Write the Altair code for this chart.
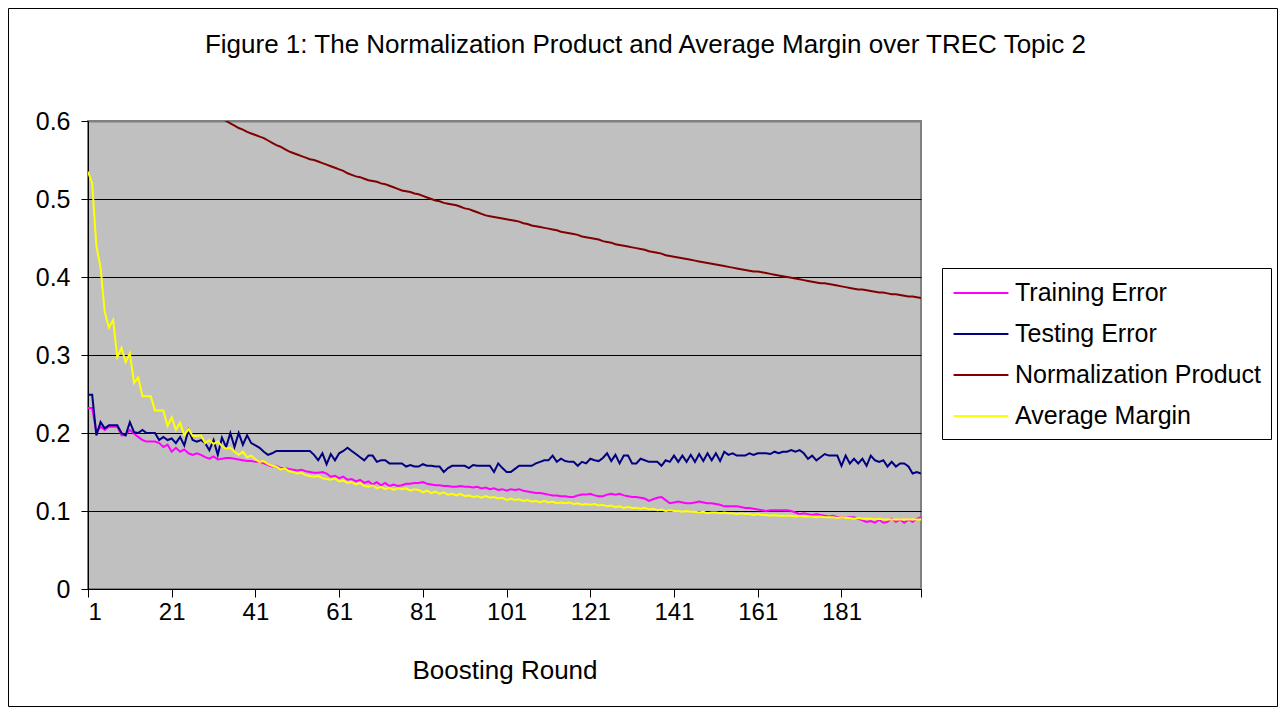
import altair as alt
import pandas as pd

FONT = "Liberation Sans"

series_names = ["Training Error", "Testing Error", "Normalization Product", "Average Margin"]
series_colors = ["#FF00FF", "#000080", "#800000", "#FFFF00"]

rounds = list(range(1, 201))

training_error = [
    0.232, 0.232, 0.201, 0.208, 0.204, 0.208, 0.208, 0.208, 0.197, 0.197,
    0.204, 0.199, 0.195, 0.191, 0.189, 0.189, 0.189, 0.187, 0.182, 0.185,
    0.176, 0.181, 0.176, 0.179, 0.174, 0.172, 0.174, 0.172, 0.169, 0.167,
    0.170, 0.166, 0.167, 0.168, 0.168, 0.167, 0.166, 0.165, 0.164, 0.164,
    0.163, 0.163, 0.161, 0.159, 0.157, 0.158, 0.155, 0.155, 0.154, 0.153,
    0.152, 0.153, 0.151, 0.150, 0.149, 0.149, 0.150, 0.148, 0.144, 0.145,
    0.142, 0.144, 0.140, 0.141, 0.138, 0.140, 0.136, 0.138, 0.134, 0.137,
    0.133, 0.136, 0.132, 0.134, 0.132, 0.133, 0.135, 0.135, 0.136, 0.136,
    0.137, 0.135, 0.134, 0.133, 0.133, 0.132, 0.132, 0.131, 0.131, 0.132,
    0.131, 0.131, 0.130, 0.131, 0.129, 0.130, 0.128, 0.129, 0.127, 0.128,
    0.126, 0.128, 0.127, 0.128, 0.126, 0.125, 0.124, 0.123, 0.123, 0.122,
    0.121, 0.120, 0.120, 0.119, 0.119, 0.118, 0.118, 0.120, 0.121, 0.121,
    0.122, 0.120, 0.119, 0.119, 0.121, 0.122, 0.121, 0.122, 0.120, 0.119,
    0.118, 0.118, 0.117, 0.116, 0.113, 0.115, 0.117, 0.118, 0.114, 0.110,
    0.111, 0.112, 0.111, 0.110, 0.110, 0.111, 0.112, 0.111, 0.110, 0.110,
    0.109, 0.108, 0.106, 0.106, 0.106, 0.106, 0.105, 0.104, 0.104, 0.103,
    0.102, 0.101, 0.100, 0.101, 0.101, 0.101, 0.101, 0.101, 0.100, 0.098,
    0.096, 0.097, 0.096, 0.095, 0.096, 0.095, 0.094, 0.093, 0.094, 0.092,
    0.092, 0.091, 0.092, 0.092, 0.090, 0.088, 0.086, 0.087, 0.085, 0.089,
    0.085, 0.086, 0.090, 0.086, 0.089, 0.085, 0.089, 0.086, 0.090, 0.092,
]

testing_error = [
    0.249, 0.249, 0.197, 0.214, 0.206, 0.210, 0.210, 0.210, 0.200, 0.197,
    0.214, 0.201, 0.200, 0.204, 0.200, 0.200, 0.200, 0.191, 0.195, 0.191,
    0.193, 0.187, 0.195, 0.184, 0.204, 0.191, 0.189, 0.191, 0.187, 0.178,
    0.191, 0.172, 0.194, 0.182, 0.200, 0.182, 0.200, 0.185, 0.197, 0.187,
    0.184, 0.181, 0.176, 0.172, 0.174, 0.177, 0.177, 0.177, 0.177, 0.177,
    0.177, 0.177, 0.177, 0.177, 0.172, 0.165, 0.174, 0.160, 0.173, 0.165,
    0.174, 0.177, 0.181, 0.177, 0.173, 0.169, 0.165, 0.171, 0.171, 0.163,
    0.165, 0.165, 0.161, 0.161, 0.161, 0.161, 0.157, 0.159, 0.157, 0.157,
    0.160, 0.158, 0.158, 0.157, 0.157, 0.150, 0.155, 0.158, 0.158, 0.158,
    0.158, 0.155, 0.159, 0.158, 0.158, 0.158, 0.158, 0.150, 0.161, 0.155,
    0.150, 0.150, 0.154, 0.158, 0.158, 0.158, 0.158, 0.161, 0.163, 0.165,
    0.165, 0.171, 0.163, 0.167, 0.164, 0.163, 0.163, 0.158, 0.163, 0.161,
    0.167, 0.165, 0.164, 0.168, 0.174, 0.164, 0.172, 0.161, 0.171, 0.171,
    0.161, 0.161, 0.167, 0.165, 0.163, 0.163, 0.163, 0.158, 0.165, 0.163,
    0.171, 0.163, 0.171, 0.163, 0.172, 0.163, 0.173, 0.164, 0.174, 0.165,
    0.174, 0.164, 0.176, 0.172, 0.174, 0.171, 0.171, 0.171, 0.174, 0.172,
    0.174, 0.174, 0.174, 0.173, 0.176, 0.174, 0.176, 0.176, 0.178, 0.176,
    0.178, 0.174, 0.167, 0.171, 0.165, 0.169, 0.173, 0.171, 0.171, 0.171,
    0.158, 0.171, 0.161, 0.167, 0.161, 0.167, 0.158, 0.171, 0.165, 0.163,
    0.165, 0.157, 0.163, 0.157, 0.161, 0.161, 0.157, 0.148, 0.150, 0.148,
]

# rounds 1-29 lie above the top of the axis (off-chart in the original)
normalization_product = [None] * 29 + [
    0.614, 0.611, 0.607, 0.603,
    0.600, 0.597, 0.594, 0.591, 0.589, 0.586, 0.584,
    0.582, 0.580, 0.578, 0.575, 0.572, 0.569, 0.567, 0.564, 0.561, 0.559,
    0.557, 0.555, 0.553, 0.551, 0.550, 0.548, 0.546, 0.544, 0.542, 0.540,
    0.538, 0.536, 0.533, 0.531, 0.529, 0.528, 0.526, 0.524, 0.523, 0.522,
    0.520, 0.519, 0.517, 0.515, 0.513, 0.511, 0.510, 0.509, 0.507, 0.506,
    0.504, 0.502, 0.500, 0.498, 0.497, 0.495, 0.494, 0.493, 0.492, 0.490,
    0.488, 0.487, 0.485, 0.483, 0.481, 0.479, 0.478, 0.477, 0.476, 0.475,
    0.474, 0.473, 0.472, 0.471, 0.469, 0.468, 0.466, 0.465, 0.464, 0.463,
    0.462, 0.461, 0.460, 0.458, 0.457, 0.456, 0.455, 0.454, 0.452, 0.451,
    0.450, 0.449, 0.448, 0.446, 0.445, 0.444, 0.442, 0.441, 0.440, 0.439,
    0.438, 0.437, 0.436, 0.435, 0.433, 0.432, 0.431, 0.430, 0.428, 0.427,
    0.426, 0.425, 0.424, 0.423, 0.422, 0.421, 0.420, 0.419, 0.418, 0.417,
    0.416, 0.415, 0.414, 0.413, 0.412, 0.411, 0.410, 0.409, 0.408, 0.407,
    0.407, 0.406, 0.405, 0.404, 0.403, 0.402, 0.401, 0.400, 0.399, 0.398,
    0.397, 0.396, 0.395, 0.394, 0.393, 0.392, 0.392, 0.391, 0.390, 0.389,
    0.388, 0.387, 0.386, 0.385, 0.384, 0.384, 0.383, 0.382, 0.381, 0.380,
    0.380, 0.379, 0.378, 0.378, 0.377, 0.376, 0.375, 0.375, 0.374, 0.373,
]

average_margin = [
    0.535, 0.520, 0.440, 0.412, 0.355, 0.335, 0.345, 0.297, 0.309, 0.291,
    0.302, 0.264, 0.271, 0.247, 0.247, 0.247, 0.229, 0.229, 0.229, 0.209,
    0.220, 0.204, 0.213, 0.197, 0.205, 0.196, 0.196, 0.197, 0.187, 0.191,
    0.186, 0.189, 0.183, 0.180, 0.181, 0.176, 0.172, 0.176, 0.169, 0.171,
    0.166, 0.163, 0.164, 0.160, 0.158, 0.157, 0.153, 0.155, 0.151, 0.150,
    0.148, 0.149, 0.146, 0.145, 0.144, 0.145, 0.142, 0.141, 0.140, 0.142,
    0.138, 0.139, 0.136, 0.137, 0.134, 0.136, 0.132, 0.131, 0.133, 0.129,
    0.131, 0.128, 0.130, 0.127, 0.129, 0.128, 0.129, 0.126, 0.128, 0.127,
    0.124, 0.126, 0.123, 0.125, 0.122, 0.124, 0.121, 0.122, 0.120, 0.122,
    0.119, 0.120, 0.118, 0.119, 0.117, 0.119, 0.117, 0.118, 0.116, 0.117,
    0.114, 0.116, 0.114, 0.115, 0.113, 0.114, 0.112, 0.113, 0.111, 0.113,
    0.111, 0.112, 0.110, 0.111, 0.110, 0.111, 0.109, 0.110, 0.108, 0.109,
    0.108, 0.109, 0.107, 0.108, 0.106, 0.107, 0.105, 0.106, 0.104, 0.105,
    0.104, 0.104, 0.103, 0.104, 0.102, 0.103, 0.101, 0.102, 0.100, 0.101,
    0.100, 0.100, 0.099, 0.100, 0.099, 0.099, 0.098, 0.099, 0.097, 0.098,
    0.098, 0.097, 0.098, 0.097, 0.097, 0.096, 0.097, 0.096, 0.096, 0.095,
    0.096, 0.095, 0.095, 0.094, 0.095, 0.094, 0.094, 0.094, 0.094, 0.093,
    0.094, 0.093, 0.093, 0.093, 0.092, 0.093, 0.092, 0.092, 0.092, 0.091,
    0.092, 0.091, 0.091, 0.090, 0.091, 0.090, 0.090, 0.090, 0.089, 0.090,
    0.089, 0.089, 0.089, 0.089, 0.089, 0.089, 0.089, 0.089, 0.089, 0.089,
]

x_tick_values = [1, 21, 41, 61, 81, 101, 121, 141, 161, 181, 200]
y_tick_values = [0, 0.1, 0.2, 0.3, 0.4, 0.5, 0.6]

all_series = [training_error, testing_error, normalization_product, average_margin]
rows = []
for name, vals in zip(series_names, all_series):
    for r, v in zip(rounds, vals):
        rows.append({"round": r, "value": v, "series": name})
df = pd.DataFrame(rows)

lines = alt.Chart(df).mark_line(strokeWidth=2, clip=True).encode(
    x=alt.X(
        "round:Q",
        scale=alt.Scale(domain=[1, 200], nice=False, zero=False),
        axis=alt.Axis(
            values=x_tick_values,
            labelExpr="datum.value == 200 ? '' : datum.label",
            grid=False,
            tickSize=8,
            tickColor="black",
            domainColor="black",
            labelFont=FONT,
            labelFontSize=24,
            labelColor="black",
            labelPadding=3,
            title="Boosting Round",
            titleFont=FONT,
            titleFontSize=26,
            titleFontWeight="normal",
            titleColor="black",
            titlePadding=33,
        ),
    ),
    y=alt.Y(
        "value:Q",
        scale=alt.Scale(domain=[0, 0.6], nice=False),
        axis=alt.Axis(
            values=y_tick_values,
            labelExpr="datum.value == 0 ? '0' : format(datum.value, '.1f')",
            grid=True,
            gridColor={"condition": {"test": "datum.value >= 0.59", "value": "#808080"}, "value": "black"},
            gridWidth={"condition": {"test": "datum.value >= 0.59", "value": 2}, "value": 1},
            tickSize=7,
            tickColor="black",
            domainColor="black",
            labelFont=FONT,
            labelFontSize=25,
            labelColor="black",
            labelPadding=11,
            title=None,
        ),
    ),
    color=alt.Color(
        "series:N",
        sort=series_names,
        scale=alt.Scale(domain=series_names, range=series_colors),
        legend=alt.Legend(
            title=None,
            orient="none",
            legendX=854,
            legendY=147,
            fillColor="white",
            strokeColor="black",
            padding=10,
            rowPadding=13,
            symbolType="M-1.96,0H1.96",
            symbolSize=784,
            symbolStrokeWidth=2,
            symbolOffset=14,
            labelOffset=19,
            labelFont=FONT,
            labelFontSize=25,
            labelColor="black",
            labelLimit=400,
        ),
    ),
)

frame_df = pd.DataFrame({"k": [0]})
frame = alt.Chart(frame_df).mark_rect(
    fillOpacity=0, stroke="black", strokeWidth=1, clip=False
).encode(
    x=alt.value(-79.5),
    x2=alt.value(1189.5),
    y=alt.value(-112.5),
    y2=alt.value(585.5),
)

chart = alt.layer(lines, frame).properties(
    width=833,
    height=468,
    autosize=alt.AutoSizeParams(type="none"),
    padding={"left": 80, "top": 113, "right": 357, "bottom": 118},
    background="white",
    title=alt.TitleParams(
        text="Figure 1: The Normalization Product and Average Margin over TREC Topic 2",
        font=FONT,
        fontSize=26,
        fontWeight="normal",
        color="black",
        anchor="middle",
        frame="group",
        dx=141,
        offset=-50,
    ),
).configure_view(
    fill="#C0C0C0",
    stroke="#808080",
    strokeWidth=2,
)

chart.save("out.html", embed_options={"renderer": "svg", "actions": False})
